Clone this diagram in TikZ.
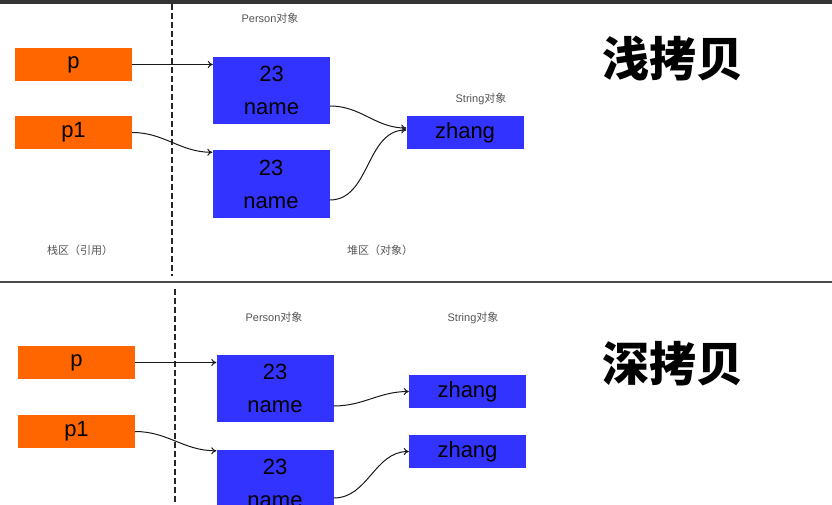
\documentclass[tikz,border=0pt]{standalone}
\usepackage{fontspec}
\setmainfont{Liberation Sans}
\newfontfamily\cjk{Noto Sans CJK SC}
\usetikzlibrary{arrows.meta}
\definecolor{refor}{HTML}{FF6600}
\definecolor{objbl}{HTML}{3333FF}
\definecolor{lblgray}{HTML}{555555}
\tikzset{
  refbox/.style={fill=refor, minimum width=117pt, minimum height=33pt, inner sep=0pt, font=\fontsize{22}{26}\selectfont},
  objbox/.style={fill=objbl, minimum width=117pt, minimum height=67pt, inner sep=0pt, align=center, font=\fontsize{22}{33}\selectfont},
  strbox/.style={fill=objbl, minimum width=117pt, minimum height=33pt, inner sep=0pt, font=\fontsize{22}{26}\selectfont},
  lbl/.style={text=lblgray, inner sep=0pt, font=\fontsize{11}{13}\selectfont},
  ttl/.style={inner sep=0pt, font=\fontsize{47}{52}\selectfont\cjk\bfseries},
  arr/.style={-{To[length=5pt,width=7pt]}, line width=1pt, black!90},
  divider/.style={dash pattern=on 6pt off 3pt, line width=1.5pt, black!85},
}
\begin{document}
\begin{tikzpicture}[x=1pt,y=-1pt]
\useasboundingbox (0,0) rectangle (832,505);
\fill[white] (0,0) rectangle (832,505);
\fill[black!80] (0,0) rectangle (832,4);
% dividers
\draw[divider] (172,4) -- (172,276);
\draw[black!70, line width=1.5pt] (0,282) -- (832,282);
\draw[divider] (175,289) -- (175,505);

% ---------- top: shallow copy ----------
\node[refbox] (p) at (73.5,64.5) {p};
\node[refbox] (p1) at (73.5,132.5) {p1};
\node[objbox] (o1) at (271.5,90.5) {23\\name};
\node[objbox] (o2) at (271,184) {23\\name};
\node[strbox] (s) at (465,132.5) {zhang};
\node[lbl] (l1) at (270,18) {Person{\cjk 对象}};
\node[lbl] (l2) at (481,99) {String{\cjk 对象}};
\node[lbl] (l3) at (80,250) {\cjk 栈区（引用）};
\node[lbl] (l4) at (380,250) {\cjk 堆区（对象）};
\node[ttl] (t1) at (673,59) {浅拷贝};

\draw[arr] (p.east) -- (o1.west |- p.east);
\draw[arr] (p1.east) to[out=0,in=180] ([yshift=-2pt]o2.north west);
\draw[arr] ([yshift=-15.5pt]o1.east) to[out=0,in=180] ([yshift=4.5pt]s.west);
\draw[arr] ([yshift=-16pt]o2.east) to[out=0,in=180] ([yshift=2.5pt]s.west);

% ---------- bottom: deep copy ----------
\node[refbox] (q) at (76.5,362.5) {p};
\node[refbox] (q1) at (76.5,431.5) {p1};
\node[objbox] (o3) at (275,388.5) {23\\name};
\node[objbox] (o4) at (275,483.5) {23\\name};
\node[strbox] (s1) at (467.5,391.5) {zhang};
\node[strbox] (s2) at (467.5,451.5) {zhang};
\node[lbl] (l5) at (274,317) {Person{\cjk 对象}};
\node[lbl] (l6) at (473,318) {String{\cjk 对象}};
\node[ttl] (t2) at (673,364) {深拷贝};

\draw[arr] (q.east) -- (o3.west |- q.east);
\draw[arr] (q1.east) to[out=0,in=180] ([yshift=-1pt]o4.north west);
\draw[arr] ([yshift=-17.5pt]o3.east) to[out=0,in=180] (s1.west);
\draw[arr] ([yshift=-14.5pt]o4.east) to[out=0,in=180] (s2.west);
\end{tikzpicture}
\end{document}
